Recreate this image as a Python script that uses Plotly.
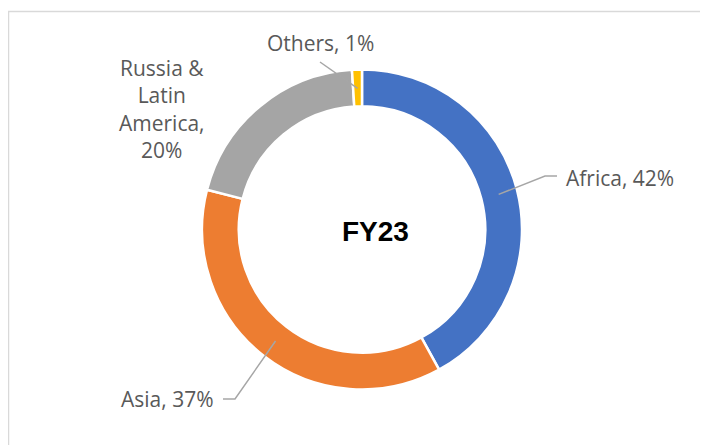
import math
import plotly.graph_objects as go

regions = ["Africa", "Asia", "Russia &<br>Latin<br>America,", "Others"]
shares = [42, 37, 20, 1]
colors = ["#4472C4", "#ED7D31", "#A5A5A5", "#FFC000"]
centre_text = "FY23"

W, H = 708, 445
OFF = 8  # the page body margin shifts the figure by 8px
cx_px, cy_px, r_px = 362 - OFF, 229.5 - OFF, 160
hole = 0.77

def px(x, y):
    # page pixel -> paper coordinates
    return (x - OFF) / W, 1 - (y - OFF) / H

fig = go.Figure()
fig.add_trace(go.Pie(
    labels=["Africa", "Asia", "Russia & Latin America", "Others"],
    values=shares,
    sort=False,
    direction="clockwise",
    rotation=0,
    hole=hole,
    textinfo="none",
    hoverinfo="label+percent",
    marker=dict(colors=colors, line=dict(color="white", width=2.5)),
    domain=dict(x=[(cx_px - r_px) / W, (cx_px + r_px) / W],
                y=[1 - (cy_px + r_px) / H, 1 - (cy_px - r_px) / H]),
    showlegend=False,
))

# anchor point of each leader line: middle of the slice, middle of the ring
total = sum(shares)
anchors = []
cum = 0
for v in shares:
    mid = (cum + v / 2) / total * 2 * math.pi
    cum += v
    rr = r_px * (1 + hole) / 2 - 0.5
    anchors.append((cx_px + OFF + rr * math.sin(mid), cy_px + OFF - rr * math.cos(mid)))

# label centres and leader elbows (page pixels)
label_pos = [(620, 178), (167, 399), (162, 109), (320, 43)]
elbows = [[(545, 176), (557, 176)], [(235, 399), (223, 399)], None, [(320, 62)]]

for i, name in enumerate(regions):
    txt = f"{name}<br>{shares[i]}%" if i == 2 else f"{name}, {shares[i]}%"
    x, y = px(*label_pos[i])
    fig.add_annotation(x=x, y=y, xref="paper", yref="paper", text=txt,
                       showarrow=False, xanchor="center", yanchor="middle",
                       font=dict(family="Open Sans", size=21, color="#595959"))
    if elbows[i]:
        pts = [anchors[i]] + elbows[i]
        path = "M " + " L ".join(f"{px(a, b)[0]},{px(a, b)[1]}" for a, b in pts)
        fig.add_shape(type="path", path=path, xref="paper", yref="paper",
                      line=dict(color="#A6A6A6", width=1.5))

fx, fy = px(375, 231)
fig.add_annotation(x=fx, y=fy, xref="paper", yref="paper",
                   text=f"<b>{centre_text}</b>", showarrow=False,
                   font=dict(family="Liberation Sans, Arial", size=28, color="#000000"))

# chart frame
x0, y1 = px(8.5, 11.5)
fig.add_shape(type="rect", xref="paper", yref="paper",
              x0=x0, x1=1.02, y0=-0.02, y1=y1,
              line=dict(color="#D9D9D9", width=1.5))

fig.update_layout(width=W, height=H, margin=dict(l=0, r=0, t=0, b=0),
                  paper_bgcolor="white", plot_bgcolor="white")

fig.write_html("out.html")
